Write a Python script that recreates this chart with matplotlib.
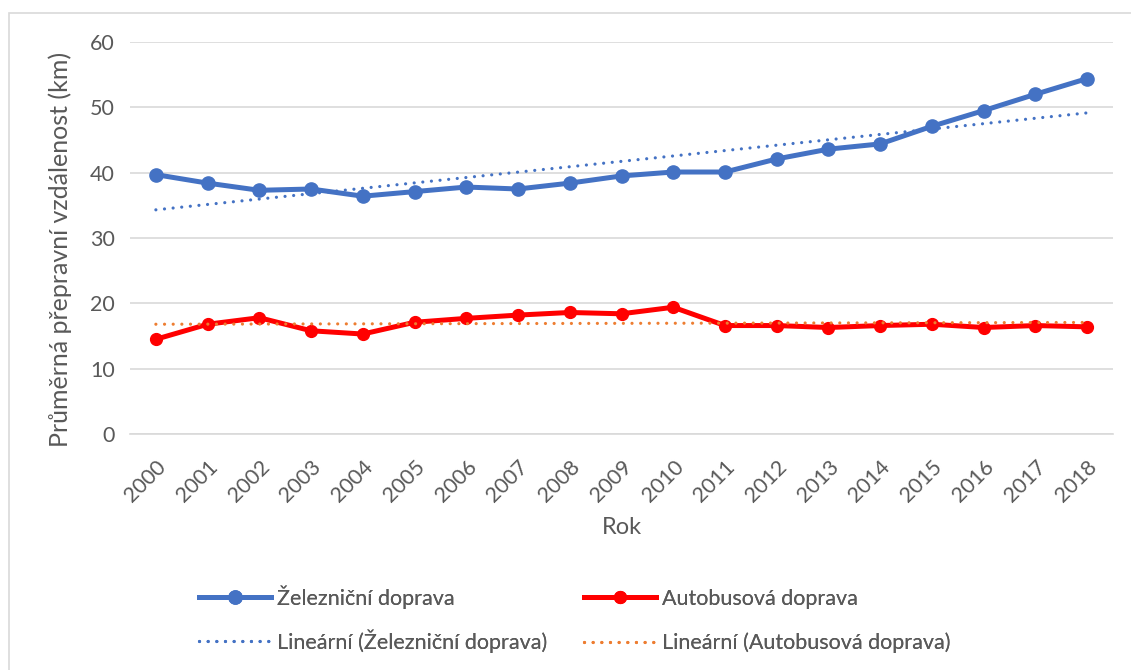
import numpy as np
import matplotlib
matplotlib.use('Agg')
from matplotlib import pyplot as plt
from matplotlib.patches import Rectangle
from matplotlib.transforms import ScaledTranslation

plt.rcParams['font.family'] = ['Lato', 'DejaVu Sans']

# Průměrná přepravní vzdálenost (km) podle roku
years = list(range(2000, 2019))
rail = [39.7, 38.4, 37.3, 37.5, 36.4, 37.1, 37.8, 37.5, 38.4, 39.5,
        40.1, 40.1, 42.1, 43.6, 44.4, 47.1, 49.5, 52.0, 54.4]
bus = [14.5, 16.8, 17.8, 15.8, 15.3, 17.1, 17.7, 18.2, 18.6, 18.4,
       19.4, 16.6, 16.6, 16.3, 16.6, 16.8, 16.3, 16.6, 16.4]

GREY = '#595959'
BLUE = '#4472C4'
RED = '#FF0000'
ORANGE = '#ED7D31'
DOTS = (0, (0.01, 2.7))

fig = plt.figure(figsize=(11.31, 6.70), dpi=100)
# rámeček grafu (pravý a spodní okraj jsou oříznuté)
fig.patches.append(Rectangle((8.5 / 1131, -20 / 670), 1200 / 1131, 677.5 / 670,
                             transform=fig.transFigure, fill=False,
                             edgecolor='#d9d9d9', lw=1.2))
ax = fig.add_axes([130 / 1131, 1 - 434 / 670, 983 / 1131, 392 / 670])

x = np.arange(len(years))

# lineární trend (jako v Excelu)
rail_fit = np.polyval(np.polyfit(x, rail, 1), x)
bus_fit = np.polyval(np.polyfit(x, bus, 1), x)

l1, = ax.plot(x, rail, color=BLUE, lw=3.6, marker='o', ms=9.5, zorder=4,
              label='Železniční doprava')
l2, = ax.plot(x, bus, color=RED, lw=3.6, marker='o', ms=8.5, zorder=4,
              label='Autobusová doprava')
l3, = ax.plot(x, rail_fit, color=BLUE, lw=2.3, ls=DOTS,
              dash_capstyle='round', zorder=5,
              label='Lineární (Železniční doprava)')
l4, = ax.plot(x, bus_fit, color=ORANGE, lw=2.3, ls=DOTS,
              dash_capstyle='round', zorder=5,
              label='Lineární (Autobusová doprava)')

ax.set_xlim(-0.5, len(years) - 0.5)
ax.set_ylim(0, 60)
ax.set_yticks(range(0, 61, 10))
ax.set_xticks(x)
ax.set_xticklabels([str(y) for y in years], rotation=45, ha='right',
                   rotation_mode='anchor')
shift = ScaledTranslation(-4 / 100, -5 / 100, fig.dpi_scale_trans)
for lab in ax.get_xticklabels():
    lab.set_transform(lab.get_transform() + shift)
ax.grid(axis='y', color='#d9d9d9', lw=1.2)
ax.set_axisbelow(True)
for s in ['top', 'right', 'left']:
    ax.spines[s].set_visible(False)
ax.spines['bottom'].set_color('#d9d9d9')
ax.spines['bottom'].set_linewidth(1.2)
ax.tick_params(axis='both', length=0, labelsize=15.5, colors=GREY)
ax.tick_params(axis='y', pad=11)
ax.tick_params(axis='x', pad=16)

ax.set_ylabel('Průměrná přepravní vzdálenost (km)', fontsize=18, color=GREY)
ax.yaxis.set_label_coords(-0.059, 0.47)
fig.text(0.5 * (130 + 1113) / 1131, 1 - 528 / 670, 'Rok', fontsize=17,
         color=GREY, ha='center', va='center')

# legenda: každá položka zvlášť, aby řádky obou sloupců lícovaly
leg_kw = dict(frameon=False, loc='center left', fontsize=15.5,
              handlelength=3.35, handletextpad=0.28,
              borderpad=0, borderaxespad=0, labelcolor=GREY)
for line, lx, ly in [(l1, 199, 597), (l3, 199, 641),
                     (l2, 584, 599), (l4, 584, 643)]:
    fig.add_artist(fig.legend(handles=[line],
                              bbox_to_anchor=(lx / 1131, 1 - ly / 670), **leg_kw))

fig.savefig('out.png', dpi=100)
